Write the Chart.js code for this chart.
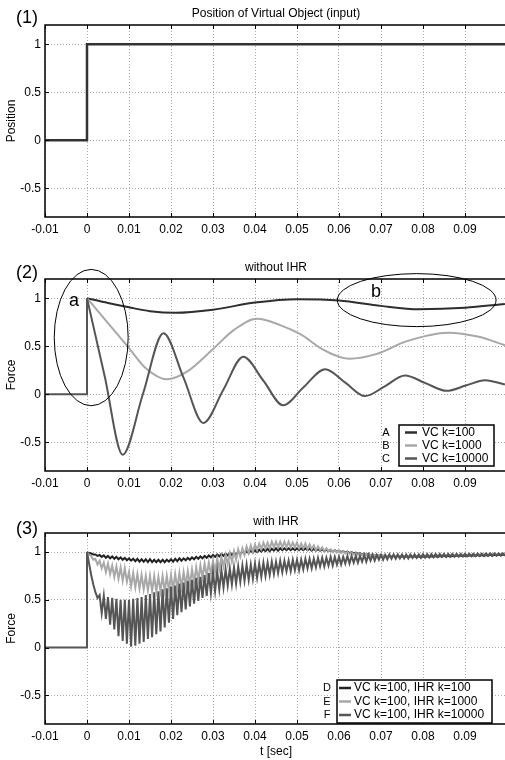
<!DOCTYPE html>
<html>
<head>
<meta charset="utf-8">
<script src="https://cdn.jsdelivr.net/npm/chart.js@4.4.1/dist/chart.umd.min.js"></script>
<style>
  html, body { margin: 0; padding: 0; background: #fff; overflow: hidden; }
  #wrap { position: relative; width: 505px; height: 760px; overflow: hidden; }
  canvas { position: absolute; left: 0; }
</style>
</head>
<body>
<div id="wrap">
  <canvas id="chart1" width="507" height="240" style="top:0"></canvas>
  <canvas id="chart2" width="507" height="240" style="top:254px"></canvas>
  <canvas id="chart3" width="507" height="252" style="top:508px"></canvas>
</div>
<script>
const FONT = '"Liberation Sans Narrow", "Liberation Sans", Arial, sans-serif';

const xTicks = [-0.01, 0, 0.01, 0.02, 0.03, 0.04, 0.05, 0.06, 0.07, 0.08, 0.09];
const yTicks = [-0.5, 0, 0.5, 1];

// (1) position of the virtual object
const inputT = [-0.01, 0, 0, 0.1];
const inputPos = [0, 0, 1, 1];

// contact step, common to every force trace
const stepT = [-0.01, 0, 0];
const stepF = [0, 0, 1];

// (2) without IHR
const vc100T = [0, 0.005, 0.01, 0.015, 0.021, 0.03, 0.04, 0.05, 0.06, 0.07, 0.079, 0.09, 0.0995];
const vc100F = [1.0, 0.95, 0.905, 0.865, 0.848, 0.88, 0.955, 0.99, 0.977, 0.92, 0.885, 0.9, 0.94];

const vc1000T = [0, 0.005, 0.01, 0.014, 0.019, 0.024, 0.03, 0.035, 0.0405, 0.046, 0.051, 0.056, 0.0625, 0.069, 0.076, 0.086, 0.093, 0.0995];
const vc1000F = [1.0, 0.74, 0.48, 0.27, 0.155, 0.24, 0.47, 0.67, 0.785, 0.72, 0.62, 0.47, 0.37, 0.42, 0.55, 0.64, 0.6, 0.51];

const vc10000T = [0, 0.0042, 0.0085, 0.0133, 0.0182, 0.023, 0.0277, 0.0325, 0.0372, 0.042, 0.0467, 0.0515, 0.0567, 0.0615, 0.0662, 0.071, 0.0757, 0.0806, 0.0856, 0.0902, 0.0948, 0.0995];
const vc10000F = [1.0, 0.19, -0.63, 0.0, 0.635, 0.17, -0.3, 0.05, 0.39, 0.14, -0.115, 0.07, 0.26, 0.12, -0.02, 0.085, 0.195, 0.115, 0.035, 0.09, 0.146, 0.10];

// (3) with IHR, sampled every 0.5 ms from t = 0
const ihrDt = 0.0005;
const ihr100 = [
  1.0, 0.99, 0.985, 0.975, 0.975, 0.96, 0.97, 0.95, 0.965, 0.94, 0.96, 0.935, 0.955, 0.93, 0.95, 0.925, 0.945, 0.92, 0.94, 0.915,
  0.935, 0.91, 0.93, 0.905, 0.93, 0.9, 0.925, 0.9, 0.925, 0.895, 0.925, 0.895, 0.92, 0.895, 0.92, 0.895, 0.92, 0.895, 0.92, 0.9,
  0.925, 0.9, 0.93, 0.905, 0.935, 0.91, 0.935, 0.915, 0.94, 0.92, 0.945, 0.925, 0.95, 0.93, 0.955, 0.935, 0.96, 0.94, 0.965, 0.945,
  0.97, 0.95, 0.975, 0.955, 0.98, 0.96, 0.985, 0.965, 0.99, 0.97, 0.995, 0.975, 1.0, 0.98, 1.005, 0.985, 1.01, 0.99, 1.015, 0.995,
  1.02, 1.0, 1.025, 1.005, 1.03, 1.01, 1.035, 1.01, 1.035, 1.015, 1.04, 1.015, 1.04, 1.02, 1.04, 1.02, 1.04, 1.02, 1.04, 1.02,
  1.04, 1.02, 1.04, 1.02, 1.04, 1.02, 1.035, 1.015, 1.035, 1.015, 1.03, 1.015, 1.03, 1.01, 1.025, 1.01, 1.02, 1.005, 1.02, 1.0,
  1.015, 1.0, 1.01, 0.995, 1.005, 0.99, 1.0, 0.985, 0.995, 0.98, 0.99, 0.975, 0.985, 0.97, 0.98, 0.965, 0.975, 0.96, 0.97, 0.96,
  0.97, 0.96, 0.965, 0.955, 0.96, 0.95, 0.96, 0.95, 0.958, 0.948, 0.957, 0.947, 0.956, 0.946, 0.955, 0.945, 0.955, 0.945, 0.955, 0.945,
  0.955, 0.947, 0.956, 0.948, 0.957, 0.949, 0.958, 0.95, 0.959, 0.951, 0.96, 0.952, 0.961, 0.953, 0.962, 0.954, 0.963, 0.955, 0.964, 0.956,
  0.965, 0.957, 0.966, 0.958, 0.967, 0.959, 0.968, 0.96, 0.969, 0.961, 0.97, 0.962, 0.971, 0.963, 0.972, 0.964, 0.973, 0.965, 0.974, 0.966
];
const ihr1000 = [
  1.0, 0.97, 0.96, 0.92, 0.93, 0.87, 0.91, 0.83, 0.89, 0.79, 0.88, 0.77, 0.86, 0.74, 0.85, 0.72, 0.84, 0.70, 0.83, 0.69,
  0.79, 0.64, 0.78, 0.63, 0.77, 0.62, 0.76, 0.61, 0.75, 0.60, 0.75, 0.59, 0.75, 0.59, 0.74, 0.59, 0.75, 0.59, 0.75, 0.60,
  0.76, 0.61, 0.77, 0.62, 0.78, 0.63, 0.79, 0.65, 0.80, 0.66, 0.82, 0.68, 0.84, 0.70, 0.86, 0.73, 0.88, 0.75, 0.89, 0.77,
  0.91, 0.79, 0.93, 0.82, 0.95, 0.85, 0.97, 0.87, 0.99, 0.9, 1.01, 0.92, 1.03, 0.95, 1.04, 0.97, 1.06, 0.99, 1.07, 1.0,
  1.08, 1.02, 1.09, 1.03, 1.1, 1.04, 1.1, 1.04, 1.11, 1.05, 1.11, 1.05, 1.11, 1.05, 1.11, 1.05, 1.11, 1.05, 1.1, 1.05,
  1.1, 1.04, 1.09, 1.04, 1.09, 1.03, 1.08, 1.03, 1.07, 1.02, 1.06, 1.02, 1.05, 1.01, 1.04, 1.01, 1.03, 1.0, 1.02, 0.995,
  1.015, 0.99, 1.01, 0.985, 1.0, 0.98, 0.995, 0.975, 0.99, 0.97, 0.985, 0.97, 0.98, 0.965, 0.975, 0.962, 0.972, 0.96, 0.97, 0.958,
  0.968, 0.956, 0.966, 0.955, 0.965, 0.954, 0.964, 0.953, 0.963, 0.953, 0.963, 0.953, 0.963, 0.953, 0.963, 0.953, 0.963, 0.954, 0.964, 0.955,
  0.965, 0.956, 0.966, 0.957, 0.967, 0.958, 0.968, 0.959, 0.969, 0.96, 0.97, 0.961, 0.971, 0.962, 0.972, 0.963, 0.973, 0.964, 0.974, 0.965,
  0.976, 0.967, 0.977, 0.968, 0.978, 0.969, 0.979, 0.97, 0.98, 0.971, 0.981, 0.972, 0.982, 0.973, 0.983, 0.974, 0.984, 0.975, 0.985, 0.976
];
const ihr10000 = [
  1.0, 0.88, 0.76, 0.66, 0.58, 0.52, 0.55, 0.36, 0.54, 0.3, 0.53, 0.24, 0.52, 0.19, 0.51, 0.12, 0.5, 0.07, 0.5, 0.04,
  0.5, 0.01, 0.51, 0.02, 0.52, 0.04, 0.53, 0.06, 0.55, 0.09, 0.56, 0.11, 0.58, 0.14, 0.59, 0.17, 0.61, 0.21, 0.62, 0.26,
  0.64, 0.3, 0.65, 0.34, 0.67, 0.37, 0.68, 0.4, 0.7, 0.43, 0.71, 0.46, 0.73, 0.49, 0.74, 0.52, 0.76, 0.54, 0.78, 0.57,
  0.79, 0.59, 0.8, 0.61, 0.81, 0.63, 0.82, 0.65, 0.83, 0.66, 0.84, 0.67, 0.85, 0.69, 0.86, 0.7, 0.87, 0.71, 0.87, 0.72,
  0.88, 0.73, 0.88, 0.74, 0.89, 0.75, 0.89, 0.76, 0.9, 0.77, 0.9, 0.78, 0.91, 0.79, 0.91, 0.8, 0.91, 0.8, 0.92, 0.81,
  0.92, 0.81, 0.92, 0.82, 0.93, 0.83, 0.93, 0.83, 0.93, 0.84, 0.94, 0.85, 0.94, 0.85, 0.94, 0.86, 0.95, 0.86, 0.95, 0.87,
  0.95, 0.87, 0.95, 0.88, 0.96, 0.88, 0.96, 0.89, 0.96, 0.89, 0.96, 0.9, 0.97, 0.9, 0.97, 0.91, 0.97, 0.91, 0.97, 0.92,
  0.97, 0.92, 0.97, 0.925, 0.975, 0.93, 0.975, 0.93, 0.975, 0.935, 0.975, 0.935, 0.975, 0.935, 0.975, 0.94, 0.975, 0.94, 0.975, 0.94,
  0.978, 0.943, 0.978, 0.945, 0.979, 0.947, 0.98, 0.948, 0.98, 0.95, 0.98, 0.951, 0.981, 0.952, 0.981, 0.953, 0.982, 0.954, 0.982, 0.955,
  0.982, 0.956, 0.983, 0.957, 0.983, 0.958, 0.984, 0.959, 0.984, 0.96, 0.985, 0.961, 0.985, 0.962, 0.985, 0.963, 0.986, 0.964, 0.986, 0.965
];

const labels2 = ['VC k=100', 'VC k=1000', 'VC k=10000'];
const tags2 = ['A', 'B', 'C'];
const labels3 = ['VC k=100, IHR k=100', 'VC k=100, IHR k=1000', 'VC k=100, IHR k=10000'];
const tags3 = ['D', 'E', 'F'];

function pts(ts, vs) {
  return ts.map((t, i) => ({ x: t, y: vs[i] }));
}
function sampled(vs) {
  return vs.map((v, i) => ({ x: i * ihrDt, y: v }));
}

// frame, inward ticks, panel number and title
const panelDecor = {
  id: 'panelDecor',
  afterDraw(chart, args, opts) {
    const { ctx, chartArea: a, scales } = chart;
    ctx.save();
    ctx.strokeStyle = '#000';
    ctx.lineWidth = 1.5;
    ctx.strokeRect(a.left, a.top, a.right - a.left, a.bottom - a.top);
    ctx.lineWidth = 1;
    xTicks.forEach(v => {
      const x = Math.round(scales.x.getPixelForValue(v)) + 0.5;
      ctx.beginPath();
      ctx.moveTo(x, a.bottom); ctx.lineTo(x, a.bottom - 4);
      ctx.moveTo(x, a.top); ctx.lineTo(x, a.top + 4);
      ctx.stroke();
    });
    yTicks.forEach(v => {
      const y = Math.round(scales.y.getPixelForValue(v)) + 0.5;
      ctx.beginPath();
      ctx.moveTo(a.left, y); ctx.lineTo(a.left + 4, y);
      ctx.stroke();
    });
    ctx.fillStyle = '#000';
    ctx.textAlign = 'center';
    ctx.textBaseline = 'middle';
    ctx.font = '12px ' + FONT;
    ctx.fillText(opts.title, (a.left + a.right) / 2, a.top - 11);
    ctx.font = '18px ' + FONT;
    ctx.fillText(opts.num, 27, a.top + opts.numDy);
    ctx.restore();
  }
};

// boxed legend inside the plot, with letter tags outside the box
const boxLegend = {
  id: 'boxLegend',
  afterDraw(chart, args, opts) {
    if (!opts.show) return;
    const { ctx, chartArea: a } = chart;
    const items = chart.data.datasets.filter(d => d.label);
    const x1 = a.right - opts.right, x0 = x1 - opts.width;
    const y1 = a.bottom - opts.bottom, y0 = y1 - opts.rowH * items.length - opts.pad * 2;
    ctx.save();
    ctx.fillStyle = '#fff';
    ctx.fillRect(x0, y0, x1 - x0, y1 - y0);
    ctx.strokeStyle = '#000';
    ctx.lineWidth = 1.5;
    ctx.strokeRect(x0, y0, x1 - x0, y1 - y0);
    ctx.textBaseline = 'middle';
    items.forEach((d, i) => {
      const y = y0 + opts.pad + opts.rowH * (i + 0.5);
      ctx.strokeStyle = d.borderColor;
      ctx.lineWidth = 2.5;
      ctx.beginPath();
      ctx.moveTo(x0 + opts.lineFrom, y); ctx.lineTo(x0 + opts.lineTo, y);
      ctx.stroke();
      ctx.fillStyle = '#000';
      ctx.textAlign = 'left';
      ctx.font = '12px ' + FONT;
      ctx.fillText(d.label, x0 + opts.textX, y);
      ctx.textAlign = 'center';
      ctx.font = '11px ' + FONT;
      ctx.fillText(d.tag, x0 - opts.tagDx, y);
    });
    ctx.restore();
  }
};

// the two ellipses with letters a and b in panel (2)
const marks = {
  id: 'marks',
  afterDatasetsDraw(chart, args, opts) {
    if (!opts.items) return;
    const { ctx, scales } = chart;
    ctx.save();
    ctx.strokeStyle = '#000';
    ctx.lineWidth = 1;
    ctx.fillStyle = '#000';
    ctx.font = '18px ' + FONT;
    ctx.textAlign = 'center';
    ctx.textBaseline = 'middle';
    opts.items.forEach(m => {
      const cx = scales.x.getPixelForValue(m.x);
      const cy = scales.y.getPixelForValue(m.y);
      const rx = Math.abs(scales.x.getPixelForValue(m.x + m.rx) - cx);
      const ry = Math.abs(scales.y.getPixelForValue(m.y + m.ry) - cy);
      ctx.beginPath();
      ctx.ellipse(cx, cy, rx, ry, 0, 0, Math.PI * 2);
      ctx.stroke();
      ctx.fillText(m.text, scales.x.getPixelForValue(m.tx), scales.y.getPixelForValue(m.ty));
    });
    ctx.restore();
  }
};

function makeOptions(p) {
  return {
    responsive: false,
    animation: false,
    layout: { padding: { top: 25, left: 0, right: 0, bottom: 0 } },
    elements: { point: { radius: 0 } },
    plugins: {
      legend: { display: false },
      tooltip: { enabled: false },
      panelDecor: { num: p.num, title: p.title, numDy: p.numDy },
      boxLegend: p.legend || { show: false },
      marks: { items: p.marks || null }
    },
    scales: {
      x: {
        type: 'linear', min: -0.01, max: 0.1,
        afterBuildTicks: s => { s.ticks = xTicks.map(v => ({ value: v })); },
        afterFit: s => { s.height = p.xHeight; },
        grid: { color: '#aaa', drawTicks: false },
        border: { display: false, dash: [1, 2] },
        ticks: { color: '#000', padding: 5, maxRotation: 0, font: { family: FONT, size: 12 }, callback: v => v.toString() },
        title: { display: !!p.xTitle, text: p.xTitle || '', color: '#000', font: { family: FONT, size: 12 }, padding: { top: 0, bottom: 1 } }
      },
      y: {
        type: 'linear', min: -0.8, max: 1.2,
        afterBuildTicks: s => { s.ticks = yTicks.map(v => ({ value: v })); },
        afterFit: s => { s.width = 45; },
        grid: { color: '#aaa', drawTicks: false },
        border: { display: false, dash: [1, 2] },
        ticks: { color: '#000', padding: 4, font: { family: FONT, size: 12 }, callback: v => v.toString() },
        title: { display: true, text: p.yTitle, color: '#000', font: { family: FONT, size: 12 }, padding: { top: 4, bottom: 0 } }
      }
    }
  };
}

function line(data, color, width, order, extra) {
  return Object.assign({ data, borderColor: color, borderWidth: width, fill: false, pointRadius: 0, order }, extra || {});
}

const extraPlugins = [panelDecor, boxLegend, marks];

new Chart(document.getElementById('chart1'), {
  type: 'line',
  data: { datasets: [line(pts(inputT, inputPos), '#333', 2.5, 0)] },
  options: makeOptions({ num: '(1)', numDy: -7, title: 'Position of Virtual Object (input)', yTitle: 'Position', xHeight: 23 }),
  plugins: extraPlugins
});

new Chart(document.getElementById('chart2'), {
  type: 'line',
  data: {
    datasets: [
      line(pts(vc100T, vc100F), '#2e2e2e', 2, 3, { label: labels2[0], tag: tags2[0], cubicInterpolationMode: 'monotone' }),
      line(pts(vc1000T, vc1000F), '#a8a8a8', 2, 2, { label: labels2[1], tag: tags2[1], cubicInterpolationMode: 'monotone' }),
      line(pts(vc10000T, vc10000F), '#555', 2, 1, { label: labels2[2], tag: tags2[2], cubicInterpolationMode: 'monotone' }),
      line(pts(stepT, stepF), '#555', 2, 0)
    ]
  },
  options: makeOptions({
    num: '(2)', numDy: -6, title: 'without IHR', yTitle: 'Force', xHeight: 23,
    legend: { show: true, right: 13, bottom: 5, width: 95, rowH: 13, pad: 1, lineFrom: 6, lineTo: 18, textX: 23, tagDx: 13 },
    marks: [
      { x: 0.001, y: 0.59, rx: 0.0088, ry: 0.71, text: 'a', tx: -0.0031, ty: 0.97 },
      { x: 0.0785, y: 0.98, rx: 0.0189, ry: 0.276, text: 'b', tx: 0.0688, ty: 1.06 }
    ]
  }),
  plugins: extraPlugins
});

new Chart(document.getElementById('chart3'), {
  type: 'line',
  data: {
    datasets: [
      line(sampled(ihr100), '#222', 2, 3, { label: labels3[0], tag: tags3[0] }),
      line(sampled(ihr1000), '#a8a8a8', 2, 2, { label: labels3[1], tag: tags3[1] }),
      line(sampled(ihr10000), '#555', 2, 1, { label: labels3[2], tag: tags3[2] }),
      line(pts(stepT, stepF), '#555', 2, 0)
    ]
  },
  options: makeOptions({
    num: '(3)', numDy: -4, title: 'with IHR', yTitle: 'Force', xTitle: 't [sec]', xHeight: 36,
    legend: { show: true, right: 15, bottom: 1, width: 155, rowH: 13.5, pad: 1.25, lineFrom: 2, lineTo: 14, textX: 17, tagDx: 10 }
  }),
  plugins: extraPlugins
});
</script>
</body>
</html>
